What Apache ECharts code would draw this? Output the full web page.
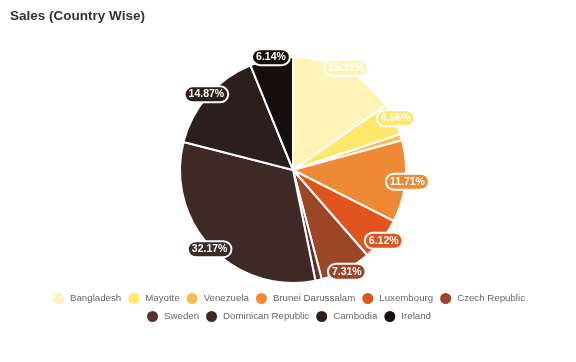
<!DOCTYPE html>
<html>
<head>
<meta charset="utf-8">
<script src="https://cdn.jsdelivr.net/npm/echarts@6/dist/echarts.min.js"></script>
<style>
html,body{margin:0;padding:0;background:#fff;}
#chart{width:576px;height:362px;}
</style>
</head>
<body>
<div id="chart"></div>
<script>
var categories = ['Bangladesh','Mayotte','Venezuela','Brunei Darussalam','Luxembourg','Czech Republic','Sweden','Dominican Republic','Cambodia','Ireland'];
var values = [15.31, 4.56, 0.90, 11.71, 6.12, 7.31, 0.91, 32.17, 14.87, 6.14];
var colors = ['#FFF4B8','#FDE86C','#F8BE4E','#EE8A36','#E0541D','#9D4527','#5B3226','#3E2927','#2C1E1B','#140E0C'];
var legendRow1 = categories.slice(0, 6);
var legendRow2 = categories.slice(6);

var chart = echarts.init(document.getElementById('chart'), null, {renderer:'canvas'});

var pieData = categories.map(function(n,i){
  return {name:n, value:values[i], itemStyle:{color:colors[i]}};
});
var labelData = categories.map(function(n,i){
  return {
    name:n, value:values[i],
    itemStyle:{color:'rgba(0,0,0,0)', borderWidth:0},
    label:{show: values[i] >= 2, backgroundColor: colors[i]}
  };
});

var legendBase = {
  left:'center', orient:'horizontal',
  icon:'circle', itemWidth:13, itemHeight:14, itemGap:5,
  textStyle:{fontFamily:'Liberation Sans, Arial, sans-serif', fontSize:9.7, color:'#666'}
};

chart.setOption({
  animation:false,
  color: colors,
  title:{
    text:'Sales (Country Wise)',
    left:5, top:4,
    textStyle:{fontFamily:'Liberation Sans, Arial, sans-serif', fontSize:13.5, fontWeight:'bold', color:'#333'}
  },
  legend:[
    Object.assign({}, legendBase, {data: legendRow1, top: 286}),
    Object.assign({}, legendBase, {data: legendRow2, top: 304})
  ],
  series:[
    {
      type:'pie', name:'Sales',
      center:[293,170], radius:[0,113],
      startAngle:90, clockwise:true,
      label:{show:false}, labelLine:{show:false},
      itemStyle:{borderColor:'#fff', borderWidth:2},
      data: pieData
    },
    {
      type:'pie', name:'labels', silent:true,
      center:[293,170], radius:[101,123],
      startAngle:90, clockwise:true,
      legendHoverLink:false,
      labelLine:{show:false},
      label:{
        position:'inside',
        formatter:'{d}%',
        color:'#fff',
        fontFamily:'Liberation Sans, Arial, sans-serif',
        fontSize:10.5, fontWeight:'bold',
        padding:[2,3,1,3],
        borderColor:'#fff', borderWidth:2, borderRadius:8
      },
      data: labelData
    }
  ]
});
</script>
</body>
</html>
